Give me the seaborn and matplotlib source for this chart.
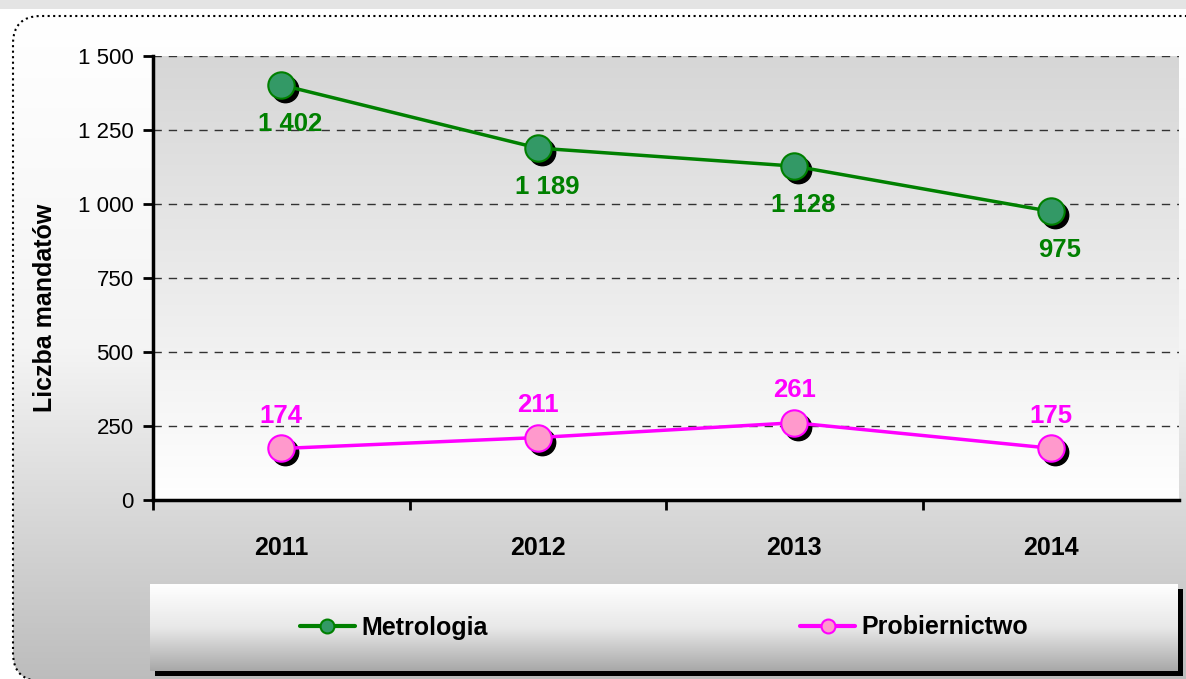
import numpy as np
import pandas as pd
import matplotlib
matplotlib.use("Agg")
import matplotlib.pyplot as plt
import matplotlib.transforms as mtrans
from matplotlib.patches import FancyBboxPatch, Rectangle
from matplotlib.lines import Line2D
from matplotlib.colors import LinearSegmentedColormap
import seaborn as sns

# dane z wykresu
years = ["2011", "2012", "2013", "2014"]
metrologia = [1402, 1189, 1128, 975]
probiernictwo = [174, 211, 261, 175]
yticks = [0, 250, 500, 750, 1000, 1250, 1500]
ytick_labels = ["0", "250", "500", "750", "1 000", "1 250", "1 500"]
series_names = ["Metrologia", "Probiernictwo"]
y_title = "Liczba mandatów"

W, H = 1186, 679
sns.set_theme(style="white")
plt.rcParams['font.family'] = ['Liberation Sans', 'DejaVu Sans']
plt.rcParams['text.color'] = 'black'

df = pd.DataFrame({
    "rok": years * 2,
    "liczba": metrologia + probiernictwo,
    "seria": [series_names[0]] * 4 + [series_names[1]] * 4,
})

fig = plt.figure(figsize=(W / 100, H / 100), dpi=100)
fig.patch.set_facecolor('white')

# tlo calego rysunku (wspolrzedne w pikselach, y od dolu)
bg = fig.add_axes([0, 0, 1, 1], zorder=-10)
bg.axis('off')
grad = np.linspace(0, 1, 256)[:, None]
cmap_bg = LinearSegmentedColormap.from_list('bg', ['#ffffff', '#f4f4f4', '#bcbcbc'])
im = bg.imshow(grad, extent=[13, W + 40, -4, H - 16], cmap=cmap_bg, aspect='auto', zorder=1)
bg.set_xlim(0, W)
bg.set_ylim(0, H)
bg.add_patch(Rectangle((0, H - 9), W, 9, facecolor='#e4e4e4', edgecolor='none'))
frame = FancyBboxPatch((13, -2), W + 40, H - 14, boxstyle="round,pad=0,rounding_size=28",
                       facecolor='none', edgecolor='black', linestyle=':', lw=1.5, zorder=2)
bg.add_patch(frame)
im.set_clip_path(frame)

# cien legendy
bg.add_patch(Rectangle((155, H - 676), 1028, 87, facecolor='black', edgecolor='none', zorder=3))

# glowny wykres
ax = fig.add_axes([153 / W, 1 - 500 / H, (1179 - 153) / W, (500 - 56) / H])
ax.set_facecolor('none')

shadow_tr = ax.transData + mtrans.ScaledTranslation(4 / 100, -4 / 100, fig.dpi_scale_trans)
styles = {"Metrologia": ('#008000', '#339966'), "Probiernictwo": ('#FF00FF', '#FF99CC')}

for name in series_names:
    sub = df[df.seria == name]
    line_c, face_c = styles[name]
    ax.plot(sub.rok, sub.liczba, 'o', color='black', ms=19, transform=shadow_tr, zorder=3)
    sns.lineplot(data=sub, x='rok', y='liczba', color=line_c, lw=2.5, marker='o',
                 markersize=19, markerfacecolor=face_c, markeredgecolor=line_c,
                 markeredgewidth=1.5, ax=ax, zorder=4, legend=False)

cmap_ax = LinearSegmentedColormap.from_list('ax', ['#d6d6d6', '#ffffff'])
ax.imshow(grad, extent=[-0.5, 3.5, 0, 1500], cmap=cmap_ax, aspect='auto', zorder=0)
ax.set_xlim(-0.5, 3.5)
ax.set_ylim(0, 1500)

for y in yticks[1:]:
    ax.axhline(y, color='#333333', lw=1, ls=(0, (6, 5)), zorder=1)

# etykiety danych
for i, v in enumerate(metrologia):
    ax.annotate(f"{v:,}".replace(",", " "), (i, v), xytext=(6.5, -28), textcoords='offset points',
                ha='center', va='center', color='#008000', fontsize=18.5, fontweight='bold', zorder=5)
for i, v in enumerate(probiernictwo):
    ax.annotate(str(v), (i, v), xytext=(0, 23.5), textcoords='offset points',
                ha='center', va='center', color='#FF00FF', fontsize=18.5, fontweight='bold', zorder=5)

# osie
for s in ['top', 'right']:
    ax.spines[s].set_visible(False)
for s in ['left', 'bottom']:
    ax.spines[s].set_color('black')
    ax.spines[s].set_linewidth(2.5)
    ax.spines[s].set_zorder(6)

ax.set_yticks(yticks)
ax.set_yticklabels(ytick_labels, fontsize=16, color='black')
ax.tick_params(axis='y', direction='out', length=7, width=2, color='black', pad=7, left=True)

ax.set_xticks([-0.5, 0.5, 1.5, 2.5])
ax.set_xticklabels([])
ax.set_xticks(range(len(years)), minor=True)
ax.set_xticklabels(years, minor=True, fontsize=18, fontweight='bold', color='black')
ax.tick_params(axis='x', which='major', direction='out', length=7, width=2, color='black', bottom=True)
ax.tick_params(axis='x', which='minor', length=0, pad=26)

ax.set_xlabel("")
ax.set_ylabel(y_title, fontsize=18, fontweight='bold', color='black')
ax.yaxis.set_label_coords(-0.094, 0.432)

# legenda
ax_leg = fig.add_axes([150 / W, 1 - 671 / H, (1178 - 150) / W, (671 - 584) / H])
cmap_leg = LinearSegmentedColormap.from_list('leg', ['#ffffff', '#e8e8e8', '#a8a8a8'])
ax_leg.imshow(grad, extent=[0, 1, 0, 1], cmap=cmap_leg, aspect='auto')
ax_leg.set_xlim(0, 1)
ax_leg.set_ylim(0, 1)
ax_leg.axis('off')
handles = [Line2D([], [], color=styles[n][0], lw=3, marker='o', ms=10,
                  markerfacecolor=styles[n][1], markeredgecolor=styles[n][0], markeredgewidth=1.5)
           for n in series_names]
leg = ax_leg.legend(handles, series_names, ncol=2, loc='center', bbox_to_anchor=(0.5, 0.5),
                    frameon=False, handlelength=2.2, handletextpad=0.25, columnspacing=12.5,
                    prop={'size': 18, 'weight': 'bold'})
for t in leg.get_texts():
    t.set_color('black')

fig.savefig("out.png", dpi=100)
